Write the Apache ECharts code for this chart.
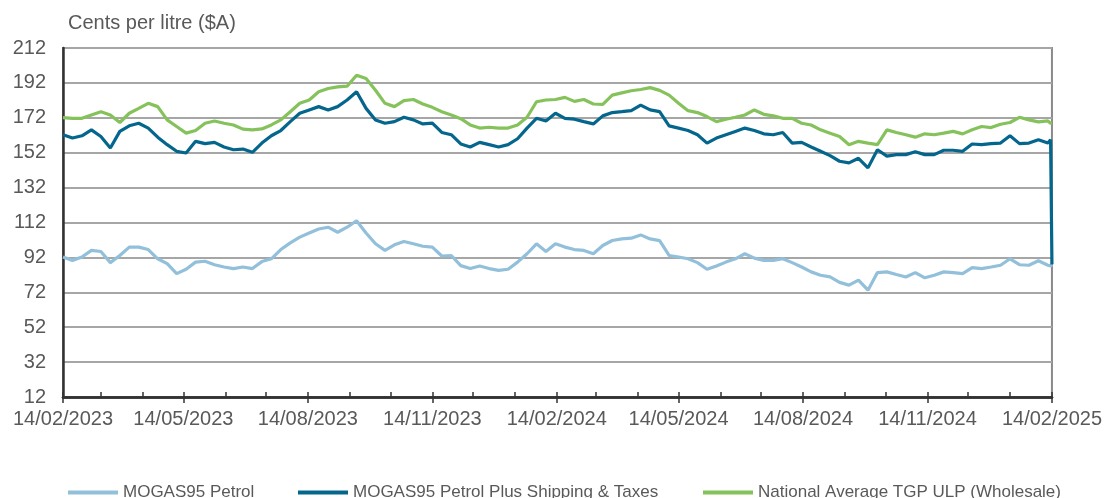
<!DOCTYPE html>
<html>
<head>
<meta charset="utf-8">
<script src="https://cdn.jsdelivr.net/npm/echarts@6/dist/echarts.min.js"></script>
<style>html,body{margin:0;padding:0;background:#fff;}#c{width:1105px;height:498px;}</style>
</head>
<body>
<div id="c"></div>
<script>
// Weekly readings starting 14/02/2023 (week 0) through week 104, then 13/02/2025 and 14/02/2025
var startDate = [2023, 1, 14];
var seriesNames = ['MOGAS95 Petrol', 'MOGAS95 Petrol Plus Shipping & Taxes', 'National Average TGP ULP (Wholesale)'];
var yTicks = {min: 12, max: 212, interval: 20};

var mogas = [92.2,90.3,92.2,96.0,95.4,89.0,93.1,97.9,97.9,96.5,91.2,88.4,82.7,85.2,89.3,89.8,87.8,86.5,85.6,86.5,85.6,
  89.6,91.2,96.5,100.3,103.6,106.0,108.3,109.3,106.4,109.3,113.0,106.0,99.8,96.0,99.2,101.1,99.8,98.4,97.9,92.8,93.1,
  87.3,85.6,87.1,85.6,84.6,85.2,89.3,94.1,99.8,95.4,99.8,97.9,96.5,96.0,94.1,98.8,101.7,102.6,103.0,104.9,102.6,
  101.6,93.1,92.2,91.2,89.0,85.2,87.1,89.3,91.2,94.1,91.6,90.3,90.3,91.2,89.0,86.5,83.7,81.8,80.8,77.7,76.1,
  79.0,73.2,83.3,83.7,82.2,80.8,83.3,80.3,81.8,83.7,83.3,82.7,86.1,85.6,86.5,87.5,91.2,87.8,87.5,90.1,87.5,
  87.1,88.0];
var mogasPlus = [162.3,160.4,161.7,165.1,161.3,154.7,164.2,167.4,168.9,166.1,160.9,156.6,152.8,151.8,158.5,157.2,157.9,155.3,153.7,154.1,152.2,
  157.5,161.7,164.7,169.8,174.6,176.5,178.4,176.5,178.4,182.2,186.9,177.4,170.8,168.9,169.8,172.3,170.8,168.5,168.9,163.6,162.3,
  157.0,155.3,157.9,156.6,155.3,156.6,160.0,166.1,171.7,170.2,174.6,171.7,171.2,169.8,168.5,173.1,175.0,175.5,176.1,179.3,176.5,
  175.5,167.4,166.1,164.7,162.3,157.5,160.4,162.3,164.2,166.1,164.7,162.8,162.3,163.6,157.5,157.9,155.3,152.8,150.3,147.1,146.2,
  148.8,143.3,153.7,150.0,150.9,150.9,152.6,150.9,150.9,153.4,153.4,152.8,157.0,156.6,157.2,157.5,161.7,157.2,157.5,159.4,157.5,
  159.4,88.0];
var tgp = [172.1,171.7,171.7,173.6,175.5,173.6,169.3,174.6,177.4,180.3,178.4,170.8,167.0,163.2,164.7,168.9,170.2,168.9,167.9,165.5,165.1,
  165.6,167.9,170.8,175.5,180.3,182.2,186.9,188.8,189.7,190.1,196.4,194.5,187.8,180.3,178.4,181.8,182.5,179.9,178.0,175.5,173.6,
  171.5,167.9,166.1,166.6,166.1,166.1,167.9,172.3,181.2,182.2,182.5,183.7,181.4,182.5,179.9,179.7,185.0,186.3,187.5,188.2,189.3,
  187.7,185.0,180.3,176.1,175.0,172.7,169.8,171.2,172.3,173.6,176.5,174.0,173.1,171.7,171.7,168.9,167.9,165.1,163.2,161.3,156.6,
  158.5,157.5,156.6,165.1,163.6,162.3,160.9,162.8,162.3,163.2,164.2,162.8,165.1,167.0,166.4,168.3,169.3,172.3,170.8,169.7,170.2,
  168.9,168.9];

// dates (categories)
var dates = [];
for (var i = 0; i <= 104; i++) dates.push(new Date(startDate[0], startDate[1], startDate[2] + 7 * i).getTime());
dates.push(new Date(2025, 1, 13).getTime());
dates.push(new Date(2025, 1, 14).getTime());

var monthTicks = [], quarterTicks = [];
for (var m = 0; m <= 24; m++) {
  var t = new Date(startDate[0], startDate[1] + m, 14).getTime();
  monthTicks.push(t);
  if (m % 3 === 0) quarterTicks.push(t);
}
var xMin = monthTicks[0], xMax = monthTicks[24];

function pair(vals) { return vals.map(function (v, k) { return [dates[k], v]; }); }
function pad(n) { return (n < 10 ? '0' : '') + n; }
function fmt(v) { var d = new Date(v); return pad(d.getDate()) + '/' + pad(d.getMonth() + 1) + '/' + d.getFullYear(); }

var FONT = 'Liberation Sans, Arial, sans-serif';
var TXT = '#595959';
var colors = ['#92C0DA', '#04668C', '#86C25B'];

function legendAt(name, left) {
  return {
    data: [name], left: left, top: 484, icon: 'rect', itemWidth: 50, itemHeight: 4,
    padding: 0, textStyle: {fontSize: 17, color: TXT, fontFamily: FONT}
  };
}

var chart = echarts.init(document.getElementById('c'));
chart.setOption({
  animation: false,
  backgroundColor: '#fff',
  title: {text: 'Cents per litre ($A)', left: 68, top: 13, padding: 0,
    textStyle: {fontSize: 20, fontWeight: 'normal', color: TXT, fontFamily: FONT}},
  legend: [legendAt(seriesNames[0], 68), legendAt(seriesNames[1], 298), legendAt(seriesNames[2], 703)],
  grid: {left: 63, right: 53, top: 48, bottom: 101, show: true, borderColor: '#8a8a8a', borderWidth: 2},
  xAxis: [{
    type: 'value', min: xMin, max: xMax, scale: true,
    axisLine: {show: true, onZero: false, lineStyle: {color: '#333', width: 2.5}},
    axisTick: {show: true, inside: true, length: 5, customValues: monthTicks, lineStyle: {color: '#333', width: 1.5}},
    axisLabel: {customValues: quarterTicks, formatter: fmt, fontSize: 20, color: TXT, fontFamily: FONT, margin: 12},
    splitLine: {show: false}
  }, {
    type: 'value', min: xMin, max: xMax, scale: true, position: 'bottom',
    axisLine: {show: true, onZero: false, lineStyle: {color: '#333', width: 2.5}},
    axisTick: {show: true, inside: false, length: 6, customValues: quarterTicks, lineStyle: {color: '#333', width: 1.5}},
    axisLabel: {show: false},
    splitLine: {show: false}
  }],
  yAxis: {
    type: 'value', min: yTicks.min, max: yTicks.max, interval: yTicks.interval,
    axisLine: {show: true, lineStyle: {color: '#333', width: 2.5}},
    axisTick: {show: false},
    axisLabel: {fontSize: 20, color: TXT, fontFamily: FONT, margin: 17},
    splitLine: {show: true, lineStyle: {color: '#a6a6a6', width: 2}}
  },
  series: [
    {name: seriesNames[0], type: 'line', data: pair(mogas), showSymbol: false, color: colors[0], lineStyle: {width: 3.2, color: colors[0]}},
    {name: seriesNames[1], type: 'line', data: pair(mogasPlus), showSymbol: false, color: colors[1], lineStyle: {width: 3.2, color: colors[1]}},
    {name: seriesNames[2], type: 'line', data: pair(tgp), showSymbol: false, color: colors[2], lineStyle: {width: 3.2, color: colors[2]}}
  ]
});
</script>
</body>
</html>
